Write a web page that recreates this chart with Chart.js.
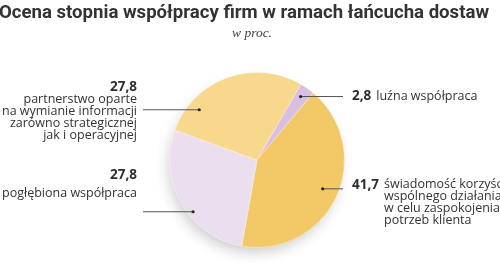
<!DOCTYPE html>
<html><head><meta charset="utf-8">
<script src="https://cdn.jsdelivr.net/npm/chart.js@4/dist/chart.umd.min.js"></script>
<style>html,body{margin:0;padding:0;background:#fff;}#wrap{position:relative;width:500px;height:263px;}</style>
</head><body><div id="wrap"><canvas id="c" width="500" height="263"></canvas></div>
<script>
const title = "Ocena stopnia współpracy firm w ramach łańcucha dostaw";
const subtitle = "w proc.";
const categories = ["luźna współpraca", "świadomość korzyści wspólnego działania w celu zaspokojenia potrzeb klienta", "pogłębiona współpraca", "partnerstwo oparte na wymianie informacji zarówno strategicznej jak i operacyjnej"];
const values = [2.8, 41.7, 27.8, 27.8];
const valueLabels = ["2,8", "41,7", "27,8", "27,8"];
const labelLines = [
  ["luźna współpraca"],
  ["świadomość korzyści", "wspólnego działania", "w celu zaspokojenia", "potrzeb klienta"],
  ["pogłębiona współpraca"],
  ["partnerstwo oparte", "na wymianie informacji", "zarówno strategicznej", "jak i operacyjnej"]
];
const colors = ["#D9C0E2", "#F3C866", "#EBDFEF", "#F7D88C"];

// label layout (annotation styling): dot angle (deg clockwise from top), dot radius fraction, line end x, side
const labelStyle = [
  {ang: 34.5, rf: 0.88, lineX: 343, side: "right"},
  {ang: 113.7, rf: 0.82, lineX: 343, side: "right"},
  {ang: 231, rf: 0.94, lineX: 143, side: "left"},
  {ang: 311, rf: 0.875, lineX: 143, side: "left"}
];

const FONT = '"Open Sans", sans-serif';
const labelPlugin = {
  id: 'labels',
  beforeDatasetsDraw(chart) {
    const ctx = chart.ctx;
    const a = chart.getDatasetMeta(0).data[0];
    ctx.save();
    ctx.shadowColor = 'rgba(0,0,0,0.2)';
    ctx.shadowBlur = 14;
    ctx.shadowOffsetY = 7;
    ctx.shadowOffsetX = -3;
    ctx.beginPath();
    ctx.arc(a.x, a.y, a.outerRadius - 2, 0, Math.PI * 2);
    ctx.fillStyle = '#F3D383';
    ctx.fill();
    ctx.restore();
  },
  afterDraw(chart) {
    const ctx = chart.ctx;
    const meta = chart.getDatasetMeta(0);
    ctx.save();
    ctx.fillStyle = '#333333';
    ctx.textAlign = 'center';
    ctx.textBaseline = 'middle';
    ctx.font = 'bold 18.6px Roboto, sans-serif';
    ctx.fillText(title, 244, 13);
    ctx.font = 'italic 13.5px "Liberation Serif", serif';
    ctx.fillStyle = '#444';
    ctx.fillText(subtitle, 252, 33);
    ctx.restore();
    ctx.save();
    meta.data.forEach((arc, i) => {
      const st = labelStyle[i];
      const th = (st.ang - 90) * Math.PI / 180;
      const dx = arc.x + Math.cos(th) * arc.outerRadius * st.rf;
      const dy = arc.y + Math.sin(th) * arc.outerRadius * st.rf;
      ctx.strokeStyle = '#555';
      ctx.lineWidth = 1;
      ctx.beginPath();
      ctx.moveTo(dx, dy);
      ctx.lineTo(st.lineX, dy);
      ctx.stroke();
      ctx.fillStyle = '#222';
      ctx.beginPath();
      ctx.arc(dx, dy, 1.6, 0, Math.PI * 2);
      ctx.fill();
      ctx.textBaseline = 'middle';
      if (st.side === 'right') {
        let x = st.lineX + 9;
        const y0 = dy - (labelLines[i].length > 1 ? 4 : 0);
        ctx.font = 'bold 13.5px ' + FONT;
        ctx.fillStyle = '#2e2e2e';
        ctx.textAlign = 'left';
        ctx.fillText(valueLabels[i], x, y0);
        const w = ctx.measureText(valueLabels[i]).width;
        ctx.font = '12.5px ' + FONT;
        ctx.fillStyle = '#333';
        labelLines[i].forEach((ln, k) => {
          ctx.fillText(ln, x + w + 5, y0 + k * 11.8);
        });
      } else {
        const xr = 137;
        ctx.textAlign = 'right';
        const n = labelLines[i].length;
        let yv, yl;
        if (n > 1) { yv = dy - 23; yl = dy - 10; } else { yv = dy - 37; yl = dy - 18; }
        ctx.font = 'bold 13.5px ' + FONT;
        ctx.fillStyle = '#2e2e2e';
        ctx.fillText(valueLabels[i], xr, yv);
        ctx.font = '12.5px ' + FONT;
        ctx.fillStyle = '#333';
        labelLines[i].forEach((ln, k) => {
          ctx.fillText(ln, xr, yl + k * 11.8);
        });
      }
    });
    ctx.restore();
  }
};

new Chart(document.getElementById('c'), {
  type: 'pie',
  data: {
    labels: categories,
    datasets: [{
      data: values,
      backgroundColor: colors,
      borderColor: 'rgba(255,255,255,0.35)',
      borderWidth: 1
    }]
  },
  options: {
    responsive: false,
    animation: false,
    rotation: 30,
    layout: {padding: {top: 72, bottom: 15, left: 100, right: 86}},
    plugins: {legend: {display: false}, tooltip: {enabled: false}, title: {display: false}}
  },
  plugins: [labelPlugin]
});
</script></body></html>
